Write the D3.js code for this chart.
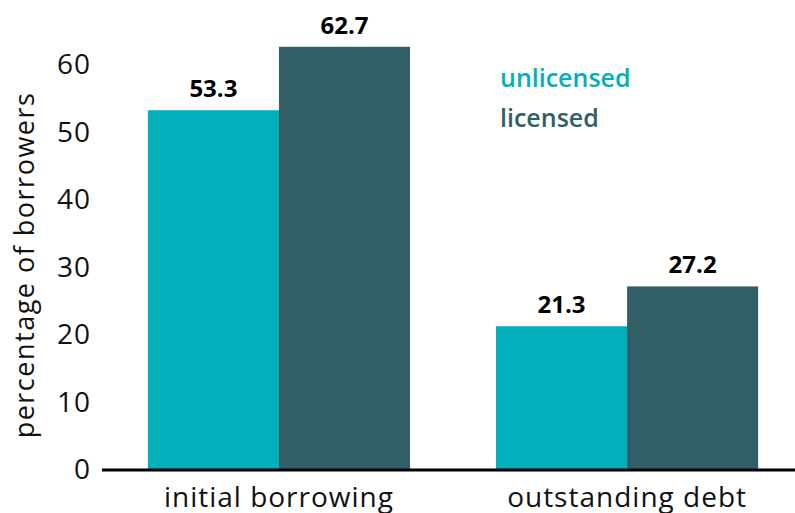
<!DOCTYPE html>
<html>
<head>
<meta charset="utf-8">
<script src="https://cdn.jsdelivr.net/npm/d3@7"></script>
<style>
  html, body { margin: 0; padding: 0; background: #fff; }
  svg { display: block; font-family: "Open Sans", sans-serif; }
</style>
</head>
<body>
<svg id="chart" width="795" height="513"></svg>
<script>
// Share of borrowers by loan type, unlicensed vs licensed lenders
const categories = ["initial borrowing", "outstanding debt"];
const seriesNames = ["unlicensed", "licensed"];
const unlicensed = [53.3, 21.3];
const licensed = [62.7, 27.2];
const yTicks = [0, 10, 20, 30, 40, 50, 60];
const colors = ["#02AFBA", "#325F66"];

const data = categories.map((c, i) => ({
  category: c,
  values: [
    { key: seriesNames[0], value: unlicensed[i] },
    { key: seriesNames[1], value: licensed[i] }
  ]
}));

const svg = d3.select("#chart");

const x0 = d3.scaleBand()
  .domain(categories)
  .range([104, 802])
  .paddingInner(0.247)
  .paddingOuter(0.126);

const x1 = d3.scaleBand()
  .domain(seriesNames)
  .range([0, x0.bandwidth()])
  .padding(0);

const y = d3.scaleLinear()
  .domain([0, 60])
  .range([470, 65]);

const color = d3.scaleOrdinal().domain(seriesNames).range(colors);

// y tick labels only (no axis line, no tick marks)
const yAxis = svg.append("g")
  .attr("transform", "translate(91,0)")
  .call(d3.axisLeft(y).tickValues(yTicks).tickSize(0).tickPadding(0).tickFormat(d3.format("d")));
yAxis.select(".domain").remove();
yAxis.selectAll("text")
  .attr("font-size", 28)
  .attr("font-family", "'Open Sans', sans-serif")
  .attr("font-weight", 400)
  .attr("letter-spacing", 1)
  .attr("fill", "#111");

// y title
svg.append("text")
  .attr("transform", `translate(34,${(90 + 440) / 2}) rotate(-90)`)
  .attr("text-anchor", "middle")
  .attr("font-size", 27)
  .attr("letter-spacing", 1.5)
  .attr("fill", "#111")
  .text("percentage of borrowers");

// bars
const groups = svg.append("g").selectAll("g")
  .data(data)
  .join("g")
  .attr("transform", d => `translate(${x0(d.category)},0)`);

groups.selectAll("rect")
  .data(d => d.values)
  .join("rect")
  .attr("x", d => x1(d.key))
  .attr("width", x1.bandwidth())
  .attr("y", d => y(d.value))
  .attr("height", d => y(0) - y(d.value))
  .attr("fill", d => color(d.key));

// value labels
groups.selectAll("text")
  .data(d => d.values)
  .join("text")
  .attr("x", d => x1(d.key) + x1.bandwidth() / 2)
  .attr("y", d => y(d.value) - 13)
  .attr("text-anchor", "middle")
  .attr("font-size", 24)
  .attr("font-weight", 700)
  .attr("fill", "#000")
  .text(d => d.value.toFixed(1));

// x axis baseline and category labels
const xAxis = svg.append("g")
  .attr("transform", `translate(0,${y(0)})`)
  .call(d3.axisBottom(x0).tickSize(0).tickPadding(0));
xAxis.select(".domain").remove();
xAxis.selectAll("text")
  .attr("dy", null)
  .attr("y", 37)
  .attr("font-size", 28)
  .attr("letter-spacing", 1)
  .attr("font-family", "'Open Sans', sans-serif")
  .attr("fill", "#111");

svg.append("line")
  .attr("x1", 102).attr("x2", 795)
  .attr("y1", y(0)).attr("y2", y(0))
  .attr("stroke", "#000")
  .attr("stroke-width", 3);

// legend
const legend = svg.append("g");
seriesNames.forEach((s, i) => {
  legend.append("text")
    .attr("x", 500)
    .attr("y", 87 + i * 40)
    .attr("font-size", 25)
    .attr("font-weight", 600)
    .attr("fill", color(s))
    .text(s);
});
</script>
</body>
</html>
